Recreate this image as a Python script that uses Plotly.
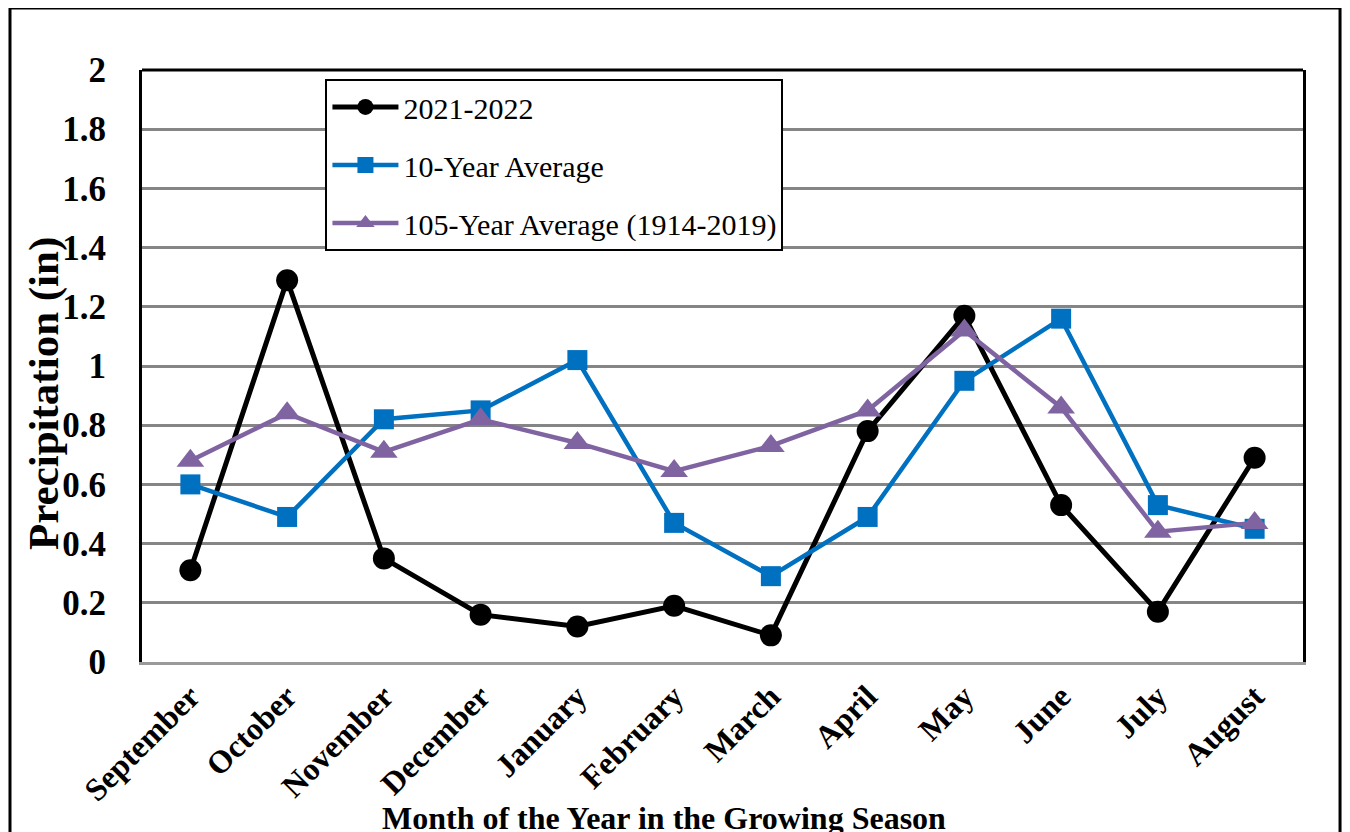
import plotly.graph_objects as go

months = ["September", "October", "November", "December", "January", "February",
          "March", "April", "May", "June", "July", "August"]
season_2021_2022 = [0.31, 1.29, 0.35, 0.16, 0.12, 0.19, 0.09, 0.78, 1.17, 0.53, 0.17, 0.69]
avg_10_year = [0.60, 0.49, 0.82, 0.85, 1.02, 0.47, 0.29, 0.49, 0.95, 1.16, 0.53, 0.45]
avg_105_year = [0.68, 0.84, 0.71, 0.82, 0.74, 0.645, 0.73, 0.85, 1.12, 0.86, 0.44, 0.47]
y_ticks = [0, 0.2, 0.4, 0.6, 0.8, 1, 1.2, 1.4, 1.6, 1.8, 2]

FONT = "Liberation Serif, Times New Roman, serif"

fig = go.Figure()
fig.add_trace(go.Scatter(
    x=months, y=season_2021_2022, name="2021-2022", mode="lines+markers",
    line=dict(color="black", width=5),
    marker=dict(symbol="circle", size=22, color="black"),
    legendgroup="a"
))
fig.add_trace(go.Scatter(
    x=months, y=avg_10_year, name="10-Year Average", mode="lines+markers",
    line=dict(color="#0070C0", width=4.5),
    marker=dict(symbol="square", size=20, color="#0070C0"),
    legendgroup="b"
))
fig.add_trace(go.Scatter(
    x=months, y=avg_105_year, name="105-Year Average (1914-2019)", mode="lines+markers",
    line=dict(color="#8064A2", width=4.5),
    marker=dict(symbol="triangle-up", size=24, color="#8064A2"),
    legendgroup="c"
))

# page has an 8px body margin, so margins are shifted to compensate
fig.update_layout(
    width=1350, height=832,
    margin=dict(l=134, r=55, t=62, b=178),
    paper_bgcolor="white", plot_bgcolor="white",
    font=dict(family=FONT, color="black"),
    showlegend=True,
    legend=dict(
        x=0.158, y=0.985, xanchor="left", yanchor="top",
        bgcolor="white", bordercolor="black", borderwidth=2,
        font=dict(family=FONT, size=30, color="black"),
        tracegroupgap=16, traceorder="grouped",
        itemwidth=66, itemsizing="trace",
    ),
    xaxis=dict(
        type="category", range=[-0.5, 11.5],
        tickangle=-45,
        tickfont=dict(family=FONT, size=32, color="black", weight="bold"),
        showgrid=False, showline=True, linecolor="#9a9a9a", linewidth=3,
        ticks="",
    ),
    yaxis=dict(
        range=[0, 2], tickvals=y_ticks,
        ticktext=[f"{v:g}" for v in y_ticks],
        tickfont=dict(family=FONT, size=35, color="black", weight="bold"),
        showgrid=True, gridcolor="#858585", gridwidth=3,
        zeroline=False,
        showline=True, linecolor="black", linewidth=3, mirror=True,
        ticks="", ticklabelstandoff=26,
    ),
    annotations=[
        dict(text="<b>Month of the Year in the Growing Season</b>",
             xref="paper", yref="paper", x=0.45, y=-0.2635,
             xanchor="center", yanchor="middle", showarrow=False,
             font=dict(family=FONT, size=32, color="black")),
        dict(text="<b>Precipitation (in)</b>", textangle=-90,
             xref="paper", yref="paper", x=-0.0844, y=0.4527,
             xanchor="center", yanchor="middle", showarrow=False,
             font=dict(family=FONT, size=43, color="black")),
    ],
    shapes=[
        dict(type="line", xref="paper", yref="paper", x0=0, x1=1, y0=1, y1=1,
             line=dict(color="black", width=3)),
        dict(type="rect", xref="paper", yref="paper",
             x0=-0.1137, x1=1.0319, y0=-0.5, y1=1.1047,
             line=dict(color="black", width=3), layer="below"),
    ],
)

fig.write_html("out.html")
